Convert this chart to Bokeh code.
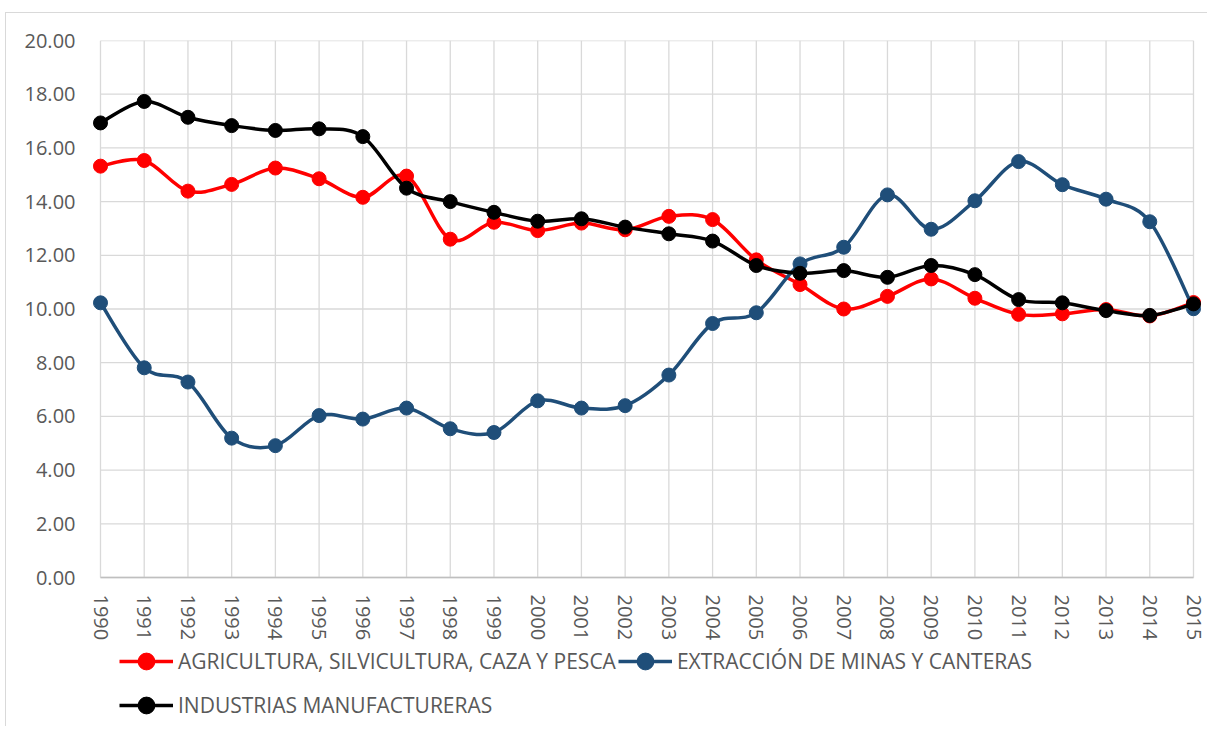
import numpy as np
from bokeh.plotting import figure
from bokeh.models import (ColumnDataSource, FixedTicker, Legend, LegendItem,
                          Range1d, NumeralTickFormatter, LinearAxis)
from bokeh.embed import file_html
from bokeh.resources import INLINE

years = list(range(1990, 2016))
year_labels = [str(y) for y in years]
y_ticks = list(range(0, 21, 2))

agri = [15.32, 15.53, 14.39, 14.64, 15.25, 14.85, 14.16, 14.95, 12.60, 13.23,
        12.92, 13.20, 12.95, 13.45, 13.33, 11.83, 10.91, 10.00, 10.47, 11.12,
        10.40, 9.80, 9.82, 9.98, 9.74, 10.24]
mineria = [10.23, 7.81, 7.28, 5.19, 4.91, 6.03, 5.90, 6.31, 5.54, 5.40,
           6.58, 6.31, 6.40, 7.54, 9.46, 9.86, 11.68, 12.30, 14.25, 12.97,
           14.03, 15.49, 14.63, 14.09, 13.25, 10.01]
industria = [16.93, 17.73, 17.14, 16.83, 16.65, 16.71, 16.42, 14.50, 14.00, 13.60,
             13.27, 13.36, 13.05, 12.80, 12.53, 11.62, 11.33, 11.43, 11.18, 11.62,
             11.28, 10.35, 10.23, 9.94, 9.76, 10.19]

names = ["AGRICULTURA, SILVICULTURA, CAZA Y PESCA",
         "EXTRACCIÓN DE MINAS Y CANTERAS",
         "INDUSTRIAS MANUFACTURERAS"]
colors = ["#FF0000", "#1F4E79", "#000000"]
series = [agri, mineria, industria]

FONT = "Open Sans"
TXT = "#595959"
GRID = "#D9D9D9"

# layout (pixels)
LEFT = 83          # frame left edge
PAD_L, PAD_R = 17, 12
PLOT_W = 1093      # 1990 -> 2015
TOP = 40
PLOT_H = 537       # 0 -> 20
HEIGHT = 726
X_STEP = PLOT_W / (years[-1] - years[0])
Y_STEP = PLOT_H / (y_ticks[-1] - y_ticks[0])
frame_w = PAD_L + PLOT_W + PAD_R
frame_h = HEIGHT - TOP


def smooth_segments(xs, ys):
    x = np.asarray(xs, dtype=float)
    y = np.asarray(ys, dtype=float)
    n = len(x)
    xp = np.concatenate([[x[0]], x, [x[-1]]])
    yp = np.concatenate([[y[0]], y, [y[-1]]])
    d = dict(x0=[], y0=[], x1=[], y1=[], cx0=[], cy0=[], cx1=[], cy1=[])
    for i in range(n - 1):
        j = i + 1
        d["x0"].append(x[i]); d["y0"].append(y[i])
        d["x1"].append(x[i + 1]); d["y1"].append(y[i + 1])
        d["cx0"].append(x[i] + (xp[j + 1] - xp[j - 1]) / 6)
        d["cy0"].append(y[i] + (yp[j + 1] - yp[j - 1]) / 6)
        d["cx1"].append(x[i + 1] - (xp[j + 2] - xp[j]) / 6)
        d["cy1"].append(y[i + 1] - (yp[j + 2] - yp[j]) / 6)
    return d


x_range = Range1d(years[0] - PAD_L / X_STEP, years[-1] + PAD_R / X_STEP)
y_range = Range1d(y_ticks[-1] - frame_h / Y_STEP, y_ticks[-1])

p = figure(width=LEFT + frame_w + 2, height=HEIGHT, output_backend="svg",
           toolbar_location=None, x_range=x_range, y_range=y_range,
           x_axis_location=None,
           min_border_left=LEFT, min_border_top=TOP, min_border_right=2,
           min_border_bottom=0)
p.outline_line_color = None
p.background_fill_color = "white"
p.border_fill_alpha = 0
p.styles = {
    "background-color": "white",
    "background-image": "linear-gradient(#D9D9D9, #D9D9D9), linear-gradient(#D9D9D9, #D9D9D9)",
    "background-size": "1px 100%, 100% 1px",
    "background-position": "5px 12px, 5px 12px",
    "background-repeat": "no-repeat",
}
p.xgrid.visible = False
p.ygrid.visible = False

# gridlines limited to the plot area
p.segment(x0=years[0], x1=years[-1], y0=y_ticks, y1=y_ticks,
          line_color=GRID, line_width=1.3, level="underlay")
p.segment(x0=years, x1=years, y0=y_ticks[0], y1=y_ticks[-1],
          line_color=GRID, line_width=1.3, level="underlay")
p.segment(x0=[years[0]], x1=[years[-1]], y0=[0], y1=[0],
          line_color="#BFBFBF", line_width=1.3, level="underlay")

xaxis = LinearAxis(fixed_location=0, ticker=FixedTicker(ticks=years),
                   major_label_overrides={y: s for y, s in zip(years, year_labels)},
                   major_label_orientation=-np.pi / 2, major_label_standoff=11,
                   major_tick_line_color=None, minor_tick_line_color=None,
                   axis_line_color=None, major_label_text_font=FONT,
                   major_label_text_font_size="20px", major_label_text_color=TXT)
p.add_layout(xaxis, "below")

p.yaxis.ticker = FixedTicker(ticks=y_ticks)
p.yaxis.formatter = NumeralTickFormatter(format="0.00")
p.yaxis.major_label_standoff = 2
p.yaxis.major_tick_line_color = None
p.yaxis.minor_tick_line_color = None
p.yaxis.axis_line_color = None
p.yaxis.major_label_text_font = FONT
p.yaxis.major_label_text_font_size = "20px"
p.yaxis.major_label_text_color = TXT

items = {}
for name, col, vals in zip(names, colors, series):
    seg = ColumnDataSource(smooth_segments(years, vals))
    b = p.bezier(x0="x0", y0="y0", x1="x1", y1="y1", cx0="cx0", cy0="cy0",
                 cx1="cx1", cy1="cy1", source=seg, line_color=col, line_width=3.5)
    src = ColumnDataSource(dict(x=years, y=vals))
    s = p.scatter("x", "y", source=src, size=14, fill_color=col, line_color=col)
    items[name] = LegendItem(label=name, renderers=[b, s])

# legend fills column by column: first column holds items 1 and 3
legend_order = [names[0], names[2], names[1]]
legend = Legend(items=[items[n] for n in legend_order], ncols=2,
                location=(119 - LEFT, 0),
                glyph_width=54, glyph_height=42, label_standoff=5, spacing=2,
                padding=0, margin=0, border_line_color=None,
                background_fill_alpha=0,
                label_text_font=FONT, label_text_font_size="21px",
                label_text_color=TXT)
p.add_layout(legend, "center")

open("out.html", "w").write(file_html(p, INLINE))
